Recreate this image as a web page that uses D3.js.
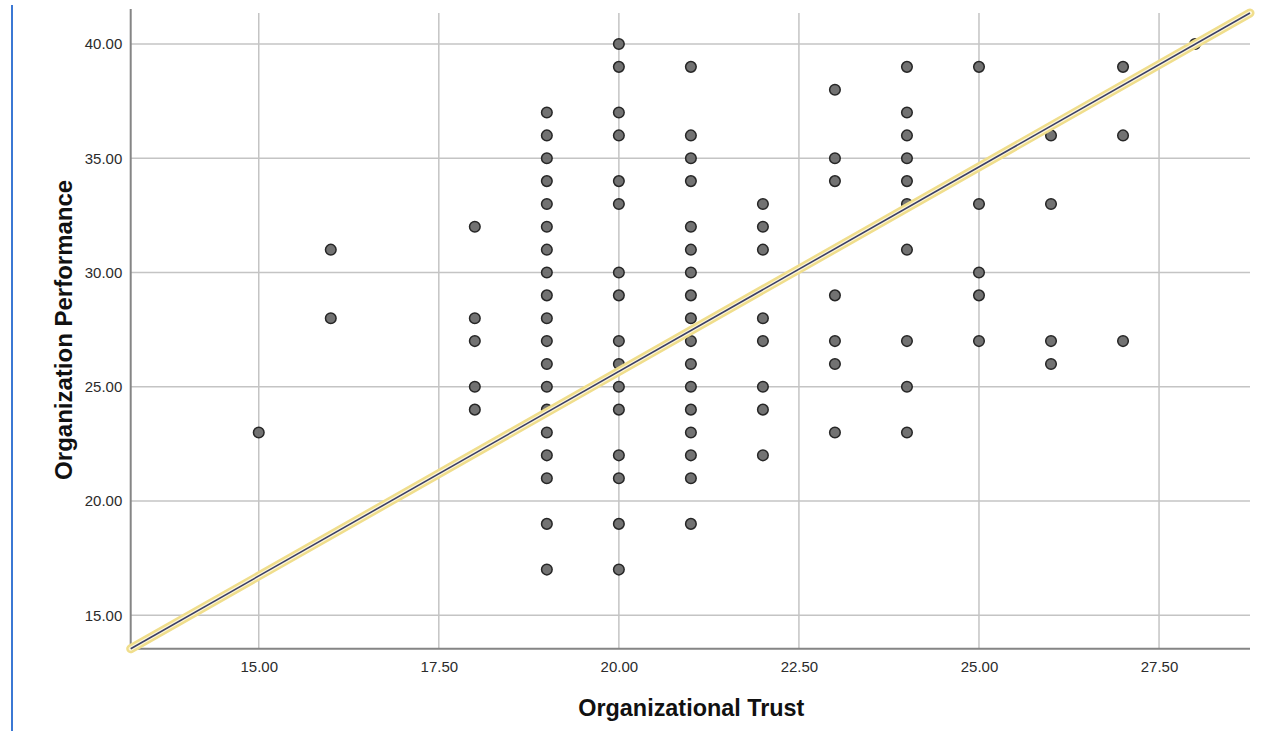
<!DOCTYPE html>
<html>
<head>
<meta charset="utf-8">
<script src="https://cdn.jsdelivr.net/npm/d3@7"></script>
<style>
  html, body { margin: 0; padding: 0; background: #ffffff; }
  svg { display: block; }
  text { font-family: "Liberation Sans", Arial, sans-serif; }
</style>
</head>
<body>
<svg id="chart" width="1267" height="731"></svg>
<script>
// Organizational Trust scores (x) and the Organization Performance scores observed at each
const trustLevels = [15, 16, 18, 19, 20, 21, 22, 23, 24, 25, 26, 27, 28];
const performanceByTrust = [
  [23],
  [31, 28],
  [32, 28, 27, 25, 24],
  [37, 36, 35, 34, 33, 32, 31, 30, 29, 28, 27, 26, 25, 24, 23, 22, 21, 19, 17],
  [40, 39, 37, 36, 34, 33, 30, 29, 27, 26, 25, 24, 22, 21, 19, 17],
  [39, 36, 35, 34, 32, 31, 30, 29, 28, 27, 26, 25, 24, 23, 22, 21, 19],
  [33, 32, 31, 28, 27, 25, 24, 22],
  [38, 35, 34, 29, 27, 26, 23],
  [39, 37, 36, 35, 34, 33, 31, 27, 25, 23],
  [39, 33, 30, 29, 27],
  [36, 33, 27, 26],
  [39, 36, 27],
  [40]
];
const xTicks = [15, 17.5, 20, 22.5, 25, 27.5];
const yTicks = [15, 20, 25, 30, 35, 40];
const xDomain = [13.222, 28.763];
const yDomain = [13.538, 41.357];
// linear fit: performance = intercept + slope * trust
const fitLine = { intercept: -10.13, slope: 1.79 };
const xTitle = "Organizational Trust";
const yTitle = "Organization Performance";

const points = [];
trustLevels.forEach((t, i) => performanceByTrust[i].forEach(p => points.push({ x: t, y: p })));

const svg = d3.select("#chart");
const plotLeft = 130.7, plotRight = 1250, plotTop = 13, plotBottom = 648.7;

const x = d3.scaleLinear().domain(xDomain).range([plotLeft, plotRight]);
const y = d3.scaleLinear().domain(yDomain).range([plotBottom, plotTop]);

// blue page edge line
svg.append("line")
  .attr("x1", 12).attr("x2", 12).attr("y1", 5).attr("y2", 731)
  .attr("stroke", "#3b78d4").attr("stroke-width", 2);

// gridlines
const grid = svg.append("g");
grid.selectAll("line.v").data(xTicks).join("line")
  .attr("class", "v")
  .attr("x1", d => x(d)).attr("x2", d => x(d))
  .attr("y1", plotTop).attr("y2", plotBottom)
  .attr("stroke", "#c4c4c4").attr("stroke-width", 1.5);
grid.selectAll("line.h").data(yTicks).join("line")
  .attr("class", "h")
  .attr("x1", plotLeft).attr("x2", plotRight)
  .attr("y1", d => y(d)).attr("y2", d => y(d))
  .attr("stroke", "#c4c4c4").attr("stroke-width", 1.5);

// axis lines
svg.append("line")
  .attr("x1", plotLeft).attr("x2", plotLeft).attr("y1", plotTop - 4).attr("y2", plotBottom)
  .attr("stroke", "#858585").attr("stroke-width", 2);
svg.append("line")
  .attr("x1", plotLeft).attr("x2", plotRight).attr("y1", plotBottom).attr("y2", plotBottom)
  .attr("stroke", "#858585").attr("stroke-width", 2);

// tick labels
const fmt = d3.format(".2f");
const xAxis = svg.append("g")
  .attr("transform", `translate(0,${plotBottom})`)
  .call(d3.axisBottom(x).tickValues(xTicks).tickFormat(fmt).tickSize(0).tickPadding(12.6));
const yAxis = svg.append("g")
  .attr("transform", `translate(${plotLeft},0)`)
  .call(d3.axisLeft(y).tickValues(yTicks).tickFormat(fmt).tickSize(0).tickPadding(8.4));
[xAxis, yAxis].forEach(g => {
  g.select(".domain").remove();
  g.selectAll("text")
    .attr("font-family", "Liberation Sans, Arial, sans-serif")
    .attr("font-size", 15)
    .attr("fill", "#2b2b2b");
});

// points
svg.append("g").selectAll("circle").data(points).join("circle")
  .attr("cx", d => x(d.x))
  .attr("cy", d => y(d.y))
  .attr("r", 5.3)
  .attr("fill", "#6a6a6a")
  .attr("fill-opacity", 0.95)
  .attr("stroke", "#262626")
  .attr("stroke-width", 1.5);

// fit line with its highlight halo
const fitData = xDomain.map(v => ({ x: v, y: fitLine.intercept + fitLine.slope * v }));
const lineGen = d3.line().x(d => x(d.x)).y(d => y(d.y));
const fitG = svg.append("g");
fitG.append("path").datum(fitData).attr("d", lineGen)
  .attr("fill", "none").attr("stroke", "#f0de8c").attr("stroke-width", 9)
  .attr("stroke-linecap", "round");
fitG.append("path").datum(fitData).attr("d", lineGen)
  .attr("fill", "none").attr("stroke", "#fcf6dc").attr("stroke-width", 4)
  .attr("stroke-linecap", "round");
fitG.append("path").datum(fitData).attr("d", lineGen)
  .attr("fill", "none").attr("stroke", "#3b3f66").attr("stroke-width", 1.6);

// axis titles
svg.append("text")
  .attr("x", (plotLeft + plotRight) / 2 + 1).attr("y", 716)
  .attr("text-anchor", "middle")
  .attr("font-size", 23.4).attr("font-weight", "bold").attr("fill", "#111")
  .text(xTitle);
svg.append("text")
  .attr("transform", `translate(72,${(plotTop + plotBottom) / 2 - 1}) rotate(-90)`)
  .attr("text-anchor", "middle")
  .attr("font-size", 24).attr("font-weight", "bold").attr("fill", "#111")
  .text(yTitle);
</script>
</body>
</html>
